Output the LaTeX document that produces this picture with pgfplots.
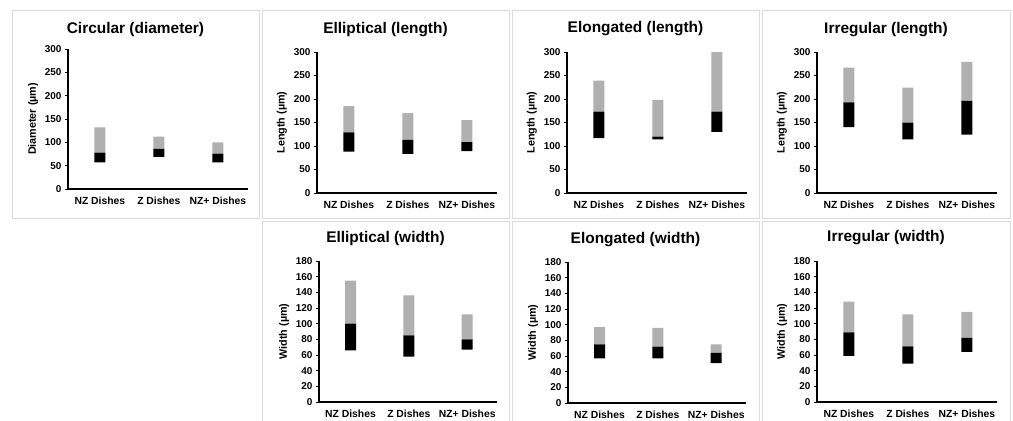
\documentclass[border=0pt]{standalone}
\usepackage{fontspec}
\setmainfont{Liberation Sans}
\usepackage{pgfplots}
\usepackage{pgfplotstable}
\pgfplotsset{compat=1.18}
\definecolor{frame}{HTML}{DADADA}
\definecolor{upper}{HTML}{B0B0B0}

% columns: category, lower end, median (top of black), upper end
\pgfplotstableread{
x lo med hi
1 57 78 132
2 69 86 112
3 57 76 100
}\circdiam
\pgfplotstableread{
x lo med hi
1 88 129 185
2 83 113 170
3 89 108 155
}\elllen
\pgfplotstableread{
x lo med hi
1 117 173 239
2 114 120 198
3 130 173 300
}\elolen
\pgfplotstableread{
x lo med hi
1 140 193 267
2 114 150 224
3 124 196 279
}\irrlen
\pgfplotstableread{
x lo med hi
1 66 100 155
2 58 85 136
3 67 80 112
}\ellwid
\pgfplotstableread{
x lo med hi
1 57 75 97
2 57 72 96
3 51 64 75
}\elowid
\pgfplotstableread{
x lo med hi
1 59 89 128
2 49 71 112
3 64 82 115
}\irrwid

\pgfplotsset{
  dish/.style={
    scale only axis, width=180bp, height=141bp,
    anchor=south west,
    ybar stacked, bar width=11bp,
    xmin=0.46, xmax=3.51, ymin=0,
    axis x line*=bottom, axis y line*=left,
    axis line style={line width=1.1bp, black},
    xtick={1,2,3}, xticklabels={NZ Dishes,Z Dishes,NZ+ Dishes},
    major x tick style={draw=none},
    tick align=outside, major tick length=3bp,
    major y tick style={line width=0.8bp, black},
    x tick label style={font=\bfseries\fontsize{10.4}{12}\selectfont, yshift=-1bp},
    y tick label style={font=\bfseries\fontsize{10}{12}\selectfont},
    /pgf/number format/assume math mode=true,
    ylabel style={font=\bfseries\fontsize{10.8}{12}\selectfont},
    axis on top,
  },
  lenax/.style={ymax=300, ytick={0,50,...,300}},
  widax/.style={ymax=180, ytick={0,20,...,180}},
}

\newcommand{\bars}[1]{%
  \addplot[fill=none, draw=none] table[x=x, y=lo] {#1};
  \addplot[fill=black, draw=none] table[x=x, y expr=\thisrow{med}-\thisrow{lo}] {#1};
  \addplot[fill=upper, draw=none] table[x=x, y expr=\thisrow{hi}-\thisrow{med}] {#1};
}

\begin{document}
\begin{tikzpicture}
\useasboundingbox (0bp,0bp) rectangle (1013bp,-421bp);
\clip (0bp,0bp) rectangle (1013bp,-421bp);
\fill[white] (0bp,0bp) rectangle (1013bp,-421bp);

\begin{scope}[x=1bp, y=1bp]
% panel frames
\begin{scope}[draw=frame, line width=1bp]
\draw (12,-10) rectangle (259,-218);
\draw (262,-10) rectangle (509,-218);
\draw (512,-10) rectangle (759,-218);
\draw (762,-10) rectangle (1010,-218);
\draw (262,-221) rectangle (509,-440);
\draw (512,-221) rectangle (759,-440);
\draw (762,-221) rectangle (1010,-440);
\end{scope}

% titles
\begin{scope}[font=\bfseries\fontsize{15.5}{18}\selectfont]
\node at (135.5,-30) {Circular (diameter)};
\node at (385.5,-30) {Elliptical (length)};
\node at (635.5,-29) {Elongated (length)};
\node at (886,-30) {Irregular (length)};
\node at (385.5,-239) {Elliptical (width)};
\node at (635.5,-240) {Elongated (width)};
\node at (886,-238) {Irregular (width)};
\end{scope}
\end{scope}

\begin{axis}[dish, lenax, at={(68bp,-189bp)}, height=140bp, ylabel={Diameter (µm)}]
\bars{\circdiam}
\end{axis}
\begin{axis}[dish, lenax, at={(317bp,-193bp)}, ylabel={Length (µm)}]
\bars{\elllen}
\end{axis}
\begin{axis}[dish, lenax, at={(567bp,-193bp)}, ylabel={Length (µm)}]
\bars{\elolen}
\end{axis}
\begin{axis}[dish, lenax, at={(817bp,-193bp)}, ylabel={Length (µm)}]
\bars{\irrlen}
\end{axis}

\begin{axis}[dish, widax, at={(319bp,-402bp)}, width=178bp, ylabel={Width (µm)}]
\bars{\ellwid}
\end{axis}
\begin{axis}[dish, widax, at={(568bp,-403bp)}, width=178bp, ylabel={Width (µm)}]
\bars{\elowid}
\end{axis}
\begin{axis}[dish, widax, at={(817bp,-402bp)}, ylabel={Width (µm)}]
\bars{\irrwid}
\end{axis}
\end{tikzpicture}
\end{document}
